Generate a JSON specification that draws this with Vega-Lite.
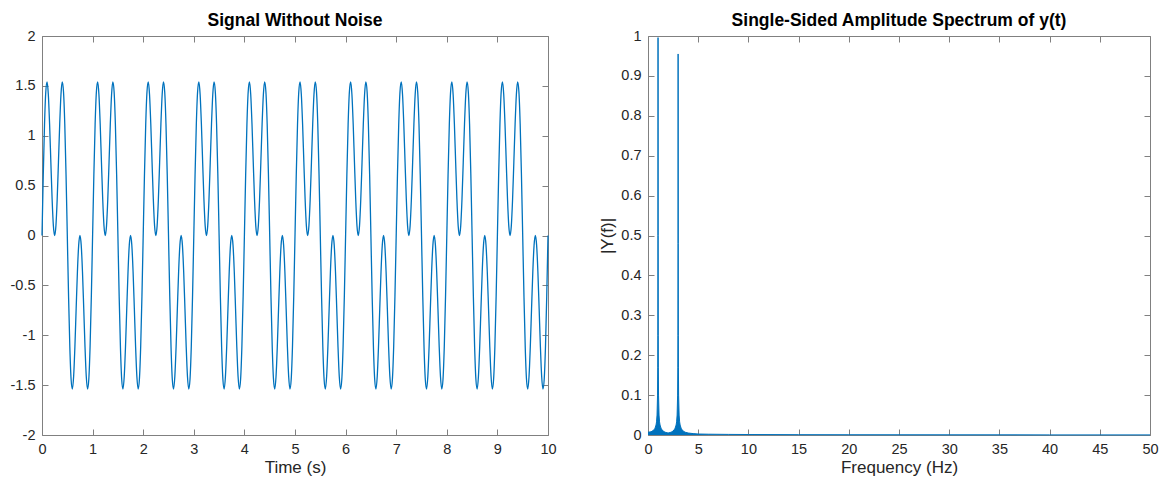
{
"$schema": "https://vega.github.io/schema/vega-lite/v6.json",
"background": "white",
"padding": {"left": 10, "top": 11, "right": 5, "bottom": 5},
"spacing": 41,
"config": {
  "font": "Liberation Sans",
  "view": {"stroke": null},
  "axis": {"grid": false, "domainColor": "#808080", "tickColor": "#808080", "labelColor": "#262626", "titleColor": "#262626", "labelFont": "Liberation Sans", "titleFont": "Liberation Sans", "labelFontSize": 14.5, "titleFontSize": 17, "titleFontWeight": "normal", "tickSize": -6, "labelPadding": 13, "labelFlush": false, "labelOverlap": false, "domainWidth": 1, "tickWidth": 1},
  "title": {"font": "Liberation Sans", "fontSize": 17.5, "fontWeight": "bold", "color": "#000000", "offset": -1, "frame": "group"}
},
"datasets": {
"signal": [
{"t":0,"y":0},{"t":0.025,"y":0.6104},{"t":0.05,"y":1.118},{"t":0.075,"y":1.4417},{"t":0.1,"y":1.5389},{"t":0.125,"y":1.4142},{"t":0.15,"y":1.118},{"t":0.175,"y":0.7346},{"t":0.2,"y":0.3633},{"t":0.225,"y":0.0967},{"t":0.25,"y":0},{"t":0.275,"y":0.0967},{"t":0.3,"y":0.3633},{"t":0.325,"y":0.7346},{"t":0.35,"y":1.118},{"t":0.375,"y":1.4142},{"t":0.4,"y":1.5389},{"t":0.425,"y":1.4417},{"t":0.45,"y":1.118},{"t":0.475,"y":0.6104},{"t":0.5,"y":0},{"t":0.525,"y":-0.6104},{"t":0.55,"y":-1.118},{"t":0.575,"y":-1.4417},{"t":0.6,"y":-1.5389},{"t":0.625,"y":-1.4142},{"t":0.65,"y":-1.118},{"t":0.675,"y":-0.7346},{"t":0.7,"y":-0.3633},{"t":0.725,"y":-0.0967},{"t":0.75,"y":0},{"t":0.775,"y":-0.0967},{"t":0.8,"y":-0.3633},{"t":0.825,"y":-0.7346},{"t":0.85,"y":-1.118},{"t":0.875,"y":-1.4142},{"t":0.9,"y":-1.5389},{"t":0.925,"y":-1.4417},{"t":0.95,"y":-1.118},{"t":0.975,"y":-0.6104},
{"t":1,"y":0},{"t":1.025,"y":0.6104},{"t":1.05,"y":1.118},{"t":1.075,"y":1.4417},{"t":1.1,"y":1.5389},{"t":1.125,"y":1.4142},{"t":1.15,"y":1.118},{"t":1.175,"y":0.7346},{"t":1.2,"y":0.3633},{"t":1.225,"y":0.0967},{"t":1.25,"y":0},{"t":1.275,"y":0.0967},{"t":1.3,"y":0.3633},{"t":1.325,"y":0.7346},{"t":1.35,"y":1.118},{"t":1.375,"y":1.4142},{"t":1.4,"y":1.5389},{"t":1.425,"y":1.4417},{"t":1.45,"y":1.118},{"t":1.475,"y":0.6104},{"t":1.5,"y":0},{"t":1.525,"y":-0.6104},{"t":1.55,"y":-1.118},{"t":1.575,"y":-1.4417},{"t":1.6,"y":-1.5389},{"t":1.625,"y":-1.4142},{"t":1.65,"y":-1.118},{"t":1.675,"y":-0.7346},{"t":1.7,"y":-0.3633},{"t":1.725,"y":-0.0967},{"t":1.75,"y":0},{"t":1.775,"y":-0.0967},{"t":1.8,"y":-0.3633},{"t":1.825,"y":-0.7346},{"t":1.85,"y":-1.118},{"t":1.875,"y":-1.4142},{"t":1.9,"y":-1.5389},{"t":1.925,"y":-1.4417},{"t":1.95,"y":-1.118},{"t":1.975,"y":-0.6104},
{"t":2,"y":0},{"t":2.025,"y":0.6104},{"t":2.05,"y":1.118},{"t":2.075,"y":1.4417},{"t":2.1,"y":1.5389},{"t":2.125,"y":1.4142},{"t":2.15,"y":1.118},{"t":2.175,"y":0.7346},{"t":2.2,"y":0.3633},{"t":2.225,"y":0.0967},{"t":2.25,"y":0},{"t":2.275,"y":0.0967},{"t":2.3,"y":0.3633},{"t":2.325,"y":0.7346},{"t":2.35,"y":1.118},{"t":2.375,"y":1.4142},{"t":2.4,"y":1.5389},{"t":2.425,"y":1.4417},{"t":2.45,"y":1.118},{"t":2.475,"y":0.6104},{"t":2.5,"y":0},{"t":2.525,"y":-0.6104},{"t":2.55,"y":-1.118},{"t":2.575,"y":-1.4417},{"t":2.6,"y":-1.5389},{"t":2.625,"y":-1.4142},{"t":2.65,"y":-1.118},{"t":2.675,"y":-0.7346},{"t":2.7,"y":-0.3633},{"t":2.725,"y":-0.0967},{"t":2.75,"y":0},{"t":2.775,"y":-0.0967},{"t":2.8,"y":-0.3633},{"t":2.825,"y":-0.7346},{"t":2.85,"y":-1.118},{"t":2.875,"y":-1.4142},{"t":2.9,"y":-1.5389},{"t":2.925,"y":-1.4417},{"t":2.95,"y":-1.118},{"t":2.975,"y":-0.6104},
{"t":3,"y":0},{"t":3.025,"y":0.6104},{"t":3.05,"y":1.118},{"t":3.075,"y":1.4417},{"t":3.1,"y":1.5389},{"t":3.125,"y":1.4142},{"t":3.15,"y":1.118},{"t":3.175,"y":0.7346},{"t":3.2,"y":0.3633},{"t":3.225,"y":0.0967},{"t":3.25,"y":0},{"t":3.275,"y":0.0967},{"t":3.3,"y":0.3633},{"t":3.325,"y":0.7346},{"t":3.35,"y":1.118},{"t":3.375,"y":1.4142},{"t":3.4,"y":1.5389},{"t":3.425,"y":1.4417},{"t":3.45,"y":1.118},{"t":3.475,"y":0.6104},{"t":3.5,"y":0},{"t":3.525,"y":-0.6104},{"t":3.55,"y":-1.118},{"t":3.575,"y":-1.4417},{"t":3.6,"y":-1.5389},{"t":3.625,"y":-1.4142},{"t":3.65,"y":-1.118},{"t":3.675,"y":-0.7346},{"t":3.7,"y":-0.3633},{"t":3.725,"y":-0.0967},{"t":3.75,"y":0},{"t":3.775,"y":-0.0967},{"t":3.8,"y":-0.3633},{"t":3.825,"y":-0.7346},{"t":3.85,"y":-1.118},{"t":3.875,"y":-1.4142},{"t":3.9,"y":-1.5389},{"t":3.925,"y":-1.4417},{"t":3.95,"y":-1.118},{"t":3.975,"y":-0.6104},
{"t":4,"y":0},{"t":4.025,"y":0.6104},{"t":4.05,"y":1.118},{"t":4.075,"y":1.4417},{"t":4.1,"y":1.5389},{"t":4.125,"y":1.4142},{"t":4.15,"y":1.118},{"t":4.175,"y":0.7346},{"t":4.2,"y":0.3633},{"t":4.225,"y":0.0967},{"t":4.25,"y":0},{"t":4.275,"y":0.0967},{"t":4.3,"y":0.3633},{"t":4.325,"y":0.7346},{"t":4.35,"y":1.118},{"t":4.375,"y":1.4142},{"t":4.4,"y":1.5389},{"t":4.425,"y":1.4417},{"t":4.45,"y":1.118},{"t":4.475,"y":0.6104},{"t":4.5,"y":0},{"t":4.525,"y":-0.6104},{"t":4.55,"y":-1.118},{"t":4.575,"y":-1.4417},{"t":4.6,"y":-1.5389},{"t":4.625,"y":-1.4142},{"t":4.65,"y":-1.118},{"t":4.675,"y":-0.7346},{"t":4.7,"y":-0.3633},{"t":4.725,"y":-0.0967},{"t":4.75,"y":0},{"t":4.775,"y":-0.0967},{"t":4.8,"y":-0.3633},{"t":4.825,"y":-0.7346},{"t":4.85,"y":-1.118},{"t":4.875,"y":-1.4142},{"t":4.9,"y":-1.5389},{"t":4.925,"y":-1.4417},{"t":4.95,"y":-1.118},{"t":4.975,"y":-0.6104},
{"t":5,"y":0},{"t":5.025,"y":0.6104},{"t":5.05,"y":1.118},{"t":5.075,"y":1.4417},{"t":5.1,"y":1.5389},{"t":5.125,"y":1.4142},{"t":5.15,"y":1.118},{"t":5.175,"y":0.7346},{"t":5.2,"y":0.3633},{"t":5.225,"y":0.0967},{"t":5.25,"y":0},{"t":5.275,"y":0.0967},{"t":5.3,"y":0.3633},{"t":5.325,"y":0.7346},{"t":5.35,"y":1.118},{"t":5.375,"y":1.4142},{"t":5.4,"y":1.5389},{"t":5.425,"y":1.4417},{"t":5.45,"y":1.118},{"t":5.475,"y":0.6104},{"t":5.5,"y":0},{"t":5.525,"y":-0.6104},{"t":5.55,"y":-1.118},{"t":5.575,"y":-1.4417},{"t":5.6,"y":-1.5389},{"t":5.625,"y":-1.4142},{"t":5.65,"y":-1.118},{"t":5.675,"y":-0.7346},{"t":5.7,"y":-0.3633},{"t":5.725,"y":-0.0967},{"t":5.75,"y":0},{"t":5.775,"y":-0.0967},{"t":5.8,"y":-0.3633},{"t":5.825,"y":-0.7346},{"t":5.85,"y":-1.118},{"t":5.875,"y":-1.4142},{"t":5.9,"y":-1.5389},{"t":5.925,"y":-1.4417},{"t":5.95,"y":-1.118},{"t":5.975,"y":-0.6104},
{"t":6,"y":0},{"t":6.025,"y":0.6104},{"t":6.05,"y":1.118},{"t":6.075,"y":1.4417},{"t":6.1,"y":1.5389},{"t":6.125,"y":1.4142},{"t":6.15,"y":1.118},{"t":6.175,"y":0.7346},{"t":6.2,"y":0.3633},{"t":6.225,"y":0.0967},{"t":6.25,"y":0},{"t":6.275,"y":0.0967},{"t":6.3,"y":0.3633},{"t":6.325,"y":0.7346},{"t":6.35,"y":1.118},{"t":6.375,"y":1.4142},{"t":6.4,"y":1.5389},{"t":6.425,"y":1.4417},{"t":6.45,"y":1.118},{"t":6.475,"y":0.6104},{"t":6.5,"y":0},{"t":6.525,"y":-0.6104},{"t":6.55,"y":-1.118},{"t":6.575,"y":-1.4417},{"t":6.6,"y":-1.5389},{"t":6.625,"y":-1.4142},{"t":6.65,"y":-1.118},{"t":6.675,"y":-0.7346},{"t":6.7,"y":-0.3633},{"t":6.725,"y":-0.0967},{"t":6.75,"y":0},{"t":6.775,"y":-0.0967},{"t":6.8,"y":-0.3633},{"t":6.825,"y":-0.7346},{"t":6.85,"y":-1.118},{"t":6.875,"y":-1.4142},{"t":6.9,"y":-1.5389},{"t":6.925,"y":-1.4417},{"t":6.95,"y":-1.118},{"t":6.975,"y":-0.6104},
{"t":7,"y":0},{"t":7.025,"y":0.6104},{"t":7.05,"y":1.118},{"t":7.075,"y":1.4417},{"t":7.1,"y":1.5389},{"t":7.125,"y":1.4142},{"t":7.15,"y":1.118},{"t":7.175,"y":0.7346},{"t":7.2,"y":0.3633},{"t":7.225,"y":0.0967},{"t":7.25,"y":0},{"t":7.275,"y":0.0967},{"t":7.3,"y":0.3633},{"t":7.325,"y":0.7346},{"t":7.35,"y":1.118},{"t":7.375,"y":1.4142},{"t":7.4,"y":1.5389},{"t":7.425,"y":1.4417},{"t":7.45,"y":1.118},{"t":7.475,"y":0.6104},{"t":7.5,"y":0},{"t":7.525,"y":-0.6104},{"t":7.55,"y":-1.118},{"t":7.575,"y":-1.4417},{"t":7.6,"y":-1.5389},{"t":7.625,"y":-1.4142},{"t":7.65,"y":-1.118},{"t":7.675,"y":-0.7346},{"t":7.7,"y":-0.3633},{"t":7.725,"y":-0.0967},{"t":7.75,"y":0},{"t":7.775,"y":-0.0967},{"t":7.8,"y":-0.3633},{"t":7.825,"y":-0.7346},{"t":7.85,"y":-1.118},{"t":7.875,"y":-1.4142},{"t":7.9,"y":-1.5389},{"t":7.925,"y":-1.4417},{"t":7.95,"y":-1.118},{"t":7.975,"y":-0.6104},
{"t":8,"y":0},{"t":8.025,"y":0.6104},{"t":8.05,"y":1.118},{"t":8.075,"y":1.4417},{"t":8.1,"y":1.5389},{"t":8.125,"y":1.4142},{"t":8.15,"y":1.118},{"t":8.175,"y":0.7346},{"t":8.2,"y":0.3633},{"t":8.225,"y":0.0967},{"t":8.25,"y":0},{"t":8.275,"y":0.0967},{"t":8.3,"y":0.3633},{"t":8.325,"y":0.7346},{"t":8.35,"y":1.118},{"t":8.375,"y":1.4142},{"t":8.4,"y":1.5389},{"t":8.425,"y":1.4417},{"t":8.45,"y":1.118},{"t":8.475,"y":0.6104},{"t":8.5,"y":0},{"t":8.525,"y":-0.6104},{"t":8.55,"y":-1.118},{"t":8.575,"y":-1.4417},{"t":8.6,"y":-1.5389},{"t":8.625,"y":-1.4142},{"t":8.65,"y":-1.118},{"t":8.675,"y":-0.7346},{"t":8.7,"y":-0.3633},{"t":8.725,"y":-0.0967},{"t":8.75,"y":0},{"t":8.775,"y":-0.0967},{"t":8.8,"y":-0.3633},{"t":8.825,"y":-0.7346},{"t":8.85,"y":-1.118},{"t":8.875,"y":-1.4142},{"t":8.9,"y":-1.5389},{"t":8.925,"y":-1.4417},{"t":8.95,"y":-1.118},{"t":8.975,"y":-0.6104},
{"t":9,"y":0},{"t":9.025,"y":0.6104},{"t":9.05,"y":1.118},{"t":9.075,"y":1.4417},{"t":9.1,"y":1.5389},{"t":9.125,"y":1.4142},{"t":9.15,"y":1.118},{"t":9.175,"y":0.7346},{"t":9.2,"y":0.3633},{"t":9.225,"y":0.0967},{"t":9.25,"y":0},{"t":9.275,"y":0.0967},{"t":9.3,"y":0.3633},{"t":9.325,"y":0.7346},{"t":9.35,"y":1.118},{"t":9.375,"y":1.4142},{"t":9.4,"y":1.5389},{"t":9.425,"y":1.4417},{"t":9.45,"y":1.118},{"t":9.475,"y":0.6104},{"t":9.5,"y":0},{"t":9.525,"y":-0.6104},{"t":9.55,"y":-1.118},{"t":9.575,"y":-1.4417},{"t":9.6,"y":-1.5389},{"t":9.625,"y":-1.4142},{"t":9.65,"y":-1.118},{"t":9.675,"y":-0.7346},{"t":9.7,"y":-0.3633},{"t":9.725,"y":-0.0967},{"t":9.75,"y":0},{"t":9.775,"y":-0.0967},{"t":9.8,"y":-0.3633},{"t":9.825,"y":-0.7346},{"t":9.85,"y":-1.118},{"t":9.875,"y":-1.4142},{"t":9.9,"y":-1.5389},{"t":9.925,"y":-1.4417},{"t":9.95,"y":-1.118},{"t":9.975,"y":-0.6104},
{"t":10,"y":0}
],
"spectrum": [
{"f":0,"a":0.007},{"f":0.3,"a":0.008},{"f":0.5,"a":0.011},{"f":0.6,"a":0.013},{"f":0.7,"a":0.017},{"f":0.8,"a":0.025},{"f":0.85,"a":0.033},{"f":0.9,"a":0.05},{"f":0.95,"a":0.1},{"f":0.97,"a":0.17},{"f":0.98,"a":0.25},{"f":0.99,"a":0.5},{"f":1.0,"a":0.996},{"f":1.01,"a":0.5},{"f":1.02,"a":0.25},{"f":1.03,"a":0.17},{"f":1.05,"a":0.1},{"f":1.1,"a":0.05},{"f":1.15,"a":0.033},{"f":1.2,"a":0.025},{"f":1.3,"a":0.017},{"f":1.4,"a":0.013},{"f":1.5,"a":0.01},{"f":1.7,"a":0.007},{"f":2.0,"a":0.005},{"f":2.3,"a":0.007},{"f":2.5,"a":0.01},{"f":2.6,"a":0.013},{"f":2.7,"a":0.017},{"f":2.8,"a":0.025},{"f":2.85,"a":0.033},{"f":2.9,"a":0.05},{"f":2.95,"a":0.1},{"f":2.97,"a":0.17},{"f":2.98,"a":0.25},{"f":2.99,"a":0.48},{"f":3.0,"a":0.955},{"f":3.01,"a":0.48},{"f":3.02,"a":0.25},{"f":3.03,"a":0.17},{"f":3.05,"a":0.1},{"f":3.1,"a":0.05},{"f":3.15,"a":0.033},{"f":3.2,"a":0.025},{"f":3.3,"a":0.017},{"f":3.4,"a":0.013},{"f":3.5,"a":0.01},{"f":3.7,"a":0.007},{"f":4.0,"a":0.005},{"f":4.5,"a":0.0035},{"f":5.0,"a":0.0025},{"f":6,"a":0.002},{"f":8,"a":0.0015},{"f":10,"a":0.0012},{"f":15,"a":0.0008},{"f":20,"a":0.0006},{"f":30,"a":0.0004},{"f":40,"a":0.0003},{"f":50,"a":0.0003}
]
},
"hconcat": [
{
  "title": "Signal Without Noise",
  "width": 506,
  "height": 399,
  "layer": [
    {
      "data": {"name": "signal"},
      "mark": {"type": "line", "color": "#0072BD", "strokeWidth": 1.3, "interpolate": "monotone"},
      "encoding": {
        "x": {"field": "t", "type": "quantitative", "scale": {"domain": [0, 10], "nice": false}, "axis": {"title": "Time (s)", "titlePadding": 4, "values": [0,1,2,3,4,5,6,7,8,9,10], "labelExpr": "'' + datum.value"}},
        "y": {"field": "y", "type": "quantitative", "scale": {"domain": [-2, 2], "nice": false}, "axis": {"title": null, "values": [-2,-1.5,-1,-0.5,0,0.5,1,1.5,2], "labelExpr": "'' + datum.value"}}
      }
    },
    {
      "data": {"name": "signal"},
      "mark": {"type": "point", "opacity": 0},
      "encoding": {
        "x": {"field": "t", "type": "quantitative", "scale": {"domain": [0, 10], "nice": false}, "axis": {"orient": "top", "labels": false, "title": null, "values": [0,1,2,3,4,5,6,7,8,9,10]}},
        "y": {"field": "y", "type": "quantitative", "scale": {"domain": [-2, 2], "nice": false}, "axis": {"orient": "right", "labels": false, "title": null, "values": [-2,-1.5,-1,-0.5,0,0.5,1,1.5,2]}}
      }
    }
  ],
  "resolve": {"axis": {"x": "independent", "y": "independent"}}
},
{
  "title": "Single-Sided Amplitude Spectrum of y(t)",
  "width": 502,
  "height": 399,
  "layer": [
    {
      "data": {"name": "spectrum"},
      "mark": {"type": "area", "color": "#0072BD", "opacity": 1, "line": {"color": "#0072BD", "strokeWidth": 1}},
      "encoding": {
        "x": {"field": "f", "type": "quantitative", "scale": {"domain": [0, 50], "nice": false}, "axis": {"title": "Frequency (Hz)", "titlePadding": 4, "values": [0,5,10,15,20,25,30,35,40,45,50], "labelExpr": "'' + datum.value"}},
        "y": {"field": "a", "type": "quantitative", "scale": {"domain": [0, 1], "nice": false}, "axis": {"title": "|Y(f)|", "titlePadding": 4, "values": [0,0.1,0.2,0.3,0.4,0.5,0.6,0.7,0.8,0.9,1], "labelExpr": "'' + datum.value"}}
      }
    },
    {
      "data": {"name": "spectrum"},
      "mark": {"type": "point", "opacity": 0},
      "encoding": {
        "x": {"field": "f", "type": "quantitative", "scale": {"domain": [0, 50], "nice": false}, "axis": {"orient": "top", "labels": false, "title": null, "values": [0,5,10,15,20,25,30,35,40,45,50]}},
        "y": {"field": "a", "type": "quantitative", "scale": {"domain": [0, 1], "nice": false}, "axis": {"orient": "right", "labels": false, "title": null, "values": [0,0.1,0.2,0.3,0.4,0.5,0.6,0.7,0.8,0.9,1]}}
      }
    }
  ],
  "resolve": {"axis": {"x": "independent", "y": "independent"}}
}
]
}
